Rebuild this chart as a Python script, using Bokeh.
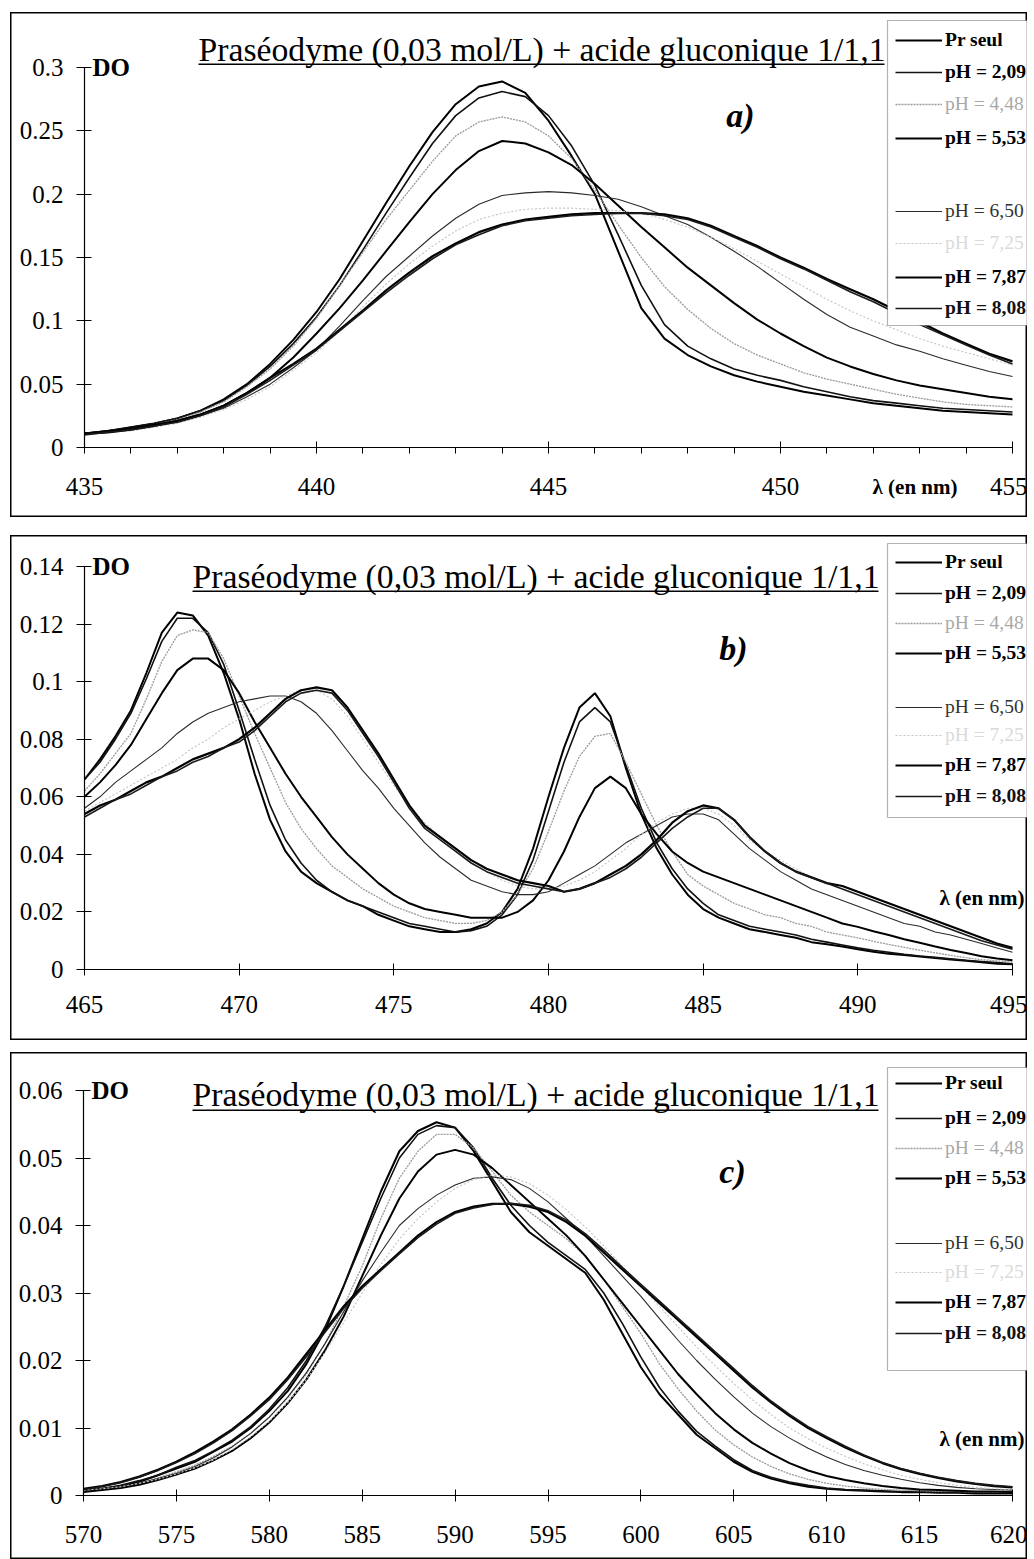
from bokeh.plotting import figure
from bokeh.models import (Range1d, LinearAxis, FixedTicker, Label, Legend, LegendItem,
                          BoxAnnotation, Spacer)
from bokeh.layouts import column, row
from bokeh.embed import file_html
from bokeh.resources import INLINE

FONT = "Liberation Serif"
TITLE = "Praséodyme (0,03 mol/L) + acide gluconique 1/1,1"
SERIES = ["Pr seul", "pH = 2,09", "pH = 4,48", "pH = 5,53",
          "pH = 6,50", "pH = 7,25", "pH = 7,87", "pH = 8,08"]

# ---------------- panel a) ----------------
WL_A = [435 + 0.5 * i for i in range(41)]
A_PR = [0.011, 0.013, 0.016, 0.019, 0.023, 0.029, 0.038, 0.050, 0.066, 0.085, 0.107, 0.133, 0.163, 0.193,
        0.222, 0.249, 0.271, 0.285, 0.289, 0.280, 0.258, 0.230, 0.200, 0.155, 0.110, 0.086, 0.073, 0.064,
        0.057, 0.052, 0.048, 0.044, 0.041, 0.038, 0.035, 0.033, 0.031, 0.029, 0.028, 0.027, 0.026]
A_209 = [0.011, 0.013, 0.016, 0.019, 0.023, 0.029, 0.037, 0.049, 0.064, 0.082, 0.103, 0.128, 0.156, 0.185,
         0.213, 0.240, 0.262, 0.276, 0.281, 0.277, 0.262, 0.238, 0.207, 0.168, 0.128, 0.097, 0.080, 0.070,
         0.062, 0.057, 0.053, 0.048, 0.044, 0.040, 0.037, 0.035, 0.033, 0.031, 0.030, 0.029, 0.028]
A_448 = [0.011, 0.013, 0.015, 0.018, 0.022, 0.028, 0.036, 0.048, 0.062, 0.080, 0.102, 0.128, 0.154, 0.180,
         0.203, 0.226, 0.246, 0.257, 0.261, 0.257, 0.246, 0.228, 0.203, 0.176, 0.150, 0.127, 0.109, 0.094,
         0.082, 0.073, 0.066, 0.059, 0.054, 0.050, 0.046, 0.042, 0.039, 0.036, 0.034, 0.033, 0.032]
A_553 = [0.011, 0.013, 0.015, 0.018, 0.021, 0.026, 0.033, 0.043, 0.055, 0.071, 0.090, 0.110, 0.132, 0.155,
         0.178, 0.200, 0.219, 0.234, 0.242, 0.240, 0.233, 0.223, 0.208, 0.191, 0.174, 0.158, 0.142, 0.128,
         0.114, 0.101, 0.090, 0.080, 0.071, 0.064, 0.058, 0.053, 0.049, 0.046, 0.043, 0.040, 0.038]
A_650 = [0.011, 0.012, 0.014, 0.017, 0.020, 0.025, 0.031, 0.040, 0.050, 0.063, 0.077, 0.096, 0.116, 0.135,
         0.151, 0.167, 0.181, 0.192, 0.199, 0.201, 0.202, 0.201, 0.199, 0.196, 0.190, 0.183, 0.176, 0.166,
         0.155, 0.143, 0.130, 0.117, 0.105, 0.095, 0.088, 0.081, 0.076, 0.070, 0.065, 0.060, 0.056]
A_725 = [0.011, 0.012, 0.013, 0.016, 0.019, 0.024, 0.030, 0.038, 0.048, 0.061, 0.075, 0.092, 0.111, 0.129,
         0.145, 0.159, 0.171, 0.180, 0.185, 0.188, 0.189, 0.189, 0.188, 0.187, 0.185, 0.180, 0.174, 0.166,
         0.157, 0.147, 0.137, 0.127, 0.117, 0.108, 0.100, 0.093, 0.086, 0.080, 0.075, 0.070, 0.065]
A_787 = [0.011, 0.012, 0.014, 0.017, 0.021, 0.026, 0.033, 0.043, 0.055, 0.066, 0.078, 0.093, 0.108, 0.124,
         0.138, 0.151, 0.161, 0.170, 0.176, 0.180, 0.182, 0.184, 0.185, 0.185, 0.185, 0.184, 0.181, 0.175,
         0.167, 0.159, 0.150, 0.142, 0.133, 0.125, 0.117, 0.108, 0.099, 0.090, 0.082, 0.074, 0.068]
A_808 = [0.010, 0.012, 0.014, 0.017, 0.020, 0.025, 0.032, 0.042, 0.053, 0.065, 0.077, 0.092, 0.107, 0.122,
         0.136, 0.149, 0.160, 0.168, 0.175, 0.179, 0.181, 0.183, 0.184, 0.185, 0.185, 0.183, 0.180, 0.174,
         0.166, 0.158, 0.149, 0.141, 0.132, 0.123, 0.115, 0.106, 0.097, 0.089, 0.081, 0.073, 0.066]
A_XTICKS = [435, 440, 445, 450, 455]
A_XMINOR = [436, 437, 438, 439, 441, 442, 443, 444, 446, 447, 448, 449, 451, 452, 453, 454]
A_YTICKS = [0, 0.05, 0.1, 0.15, 0.2, 0.25, 0.3]
A_YLABELS = ["0", "0.05", "0.1", "0.15", "0.2", "0.25", "0.3"]

# ---------------- panel b) ----------------
WL_B = [465 + 0.5 * i for i in range(61)]
B_PR = [0.066, 0.073, 0.081, 0.090, 0.103, 0.117, 0.124, 0.123, 0.116, 0.103, 0.087,
        0.068, 0.052, 0.041, 0.034, 0.030, 0.027, 0.024, 0.022, 0.019, 0.017,
        0.015, 0.014, 0.013, 0.013, 0.014, 0.016, 0.020, 0.028, 0.042, 0.060,
        0.077, 0.091, 0.096, 0.088, 0.070, 0.054, 0.042, 0.033, 0.026, 0.021,
        0.018, 0.016, 0.014, 0.013, 0.012, 0.011, 0.0095, 0.0088, 0.008, 0.007,
        0.0062, 0.0055, 0.005, 0.0045, 0.004, 0.0035, 0.003, 0.0025, 0.002, 0.0018]
B_209 = [0.066, 0.072, 0.080, 0.089, 0.101, 0.114, 0.122, 0.122, 0.117, 0.106, 0.090,
         0.073, 0.057, 0.045, 0.037, 0.031, 0.027, 0.024, 0.022, 0.020, 0.018,
         0.016, 0.015, 0.014, 0.013, 0.0135, 0.015, 0.019, 0.026, 0.038, 0.055,
         0.072, 0.086, 0.091, 0.086, 0.071, 0.056, 0.044, 0.035, 0.028, 0.023,
         0.019, 0.017, 0.015, 0.014, 0.013, 0.012, 0.0105, 0.0095, 0.0085, 0.0075,
         0.0067, 0.006, 0.0053, 0.0047, 0.0042, 0.0037, 0.0032, 0.0028, 0.0024, 0.002]
B_448 = [0.062, 0.068, 0.075, 0.082, 0.094, 0.107, 0.116, 0.118, 0.117, 0.108, 0.095,
         0.082, 0.070, 0.058, 0.049, 0.042, 0.036, 0.032, 0.028, 0.025, 0.022,
         0.020, 0.018, 0.017, 0.016, 0.016, 0.017, 0.020, 0.026, 0.035, 0.048,
         0.062, 0.074, 0.081, 0.082, 0.072, 0.061, 0.050, 0.041, 0.033, 0.029,
         0.026, 0.023, 0.021, 0.019, 0.018, 0.016, 0.015, 0.013, 0.012, 0.011,
         0.0098, 0.0087, 0.0077, 0.0067, 0.0058, 0.0049, 0.0041, 0.0034, 0.003, 0.0026]
B_553 = [0.060, 0.065, 0.071, 0.078, 0.087, 0.096, 0.104, 0.108, 0.108, 0.104, 0.096,
         0.086, 0.077, 0.068, 0.060, 0.053, 0.046, 0.040, 0.035, 0.030, 0.026,
         0.023, 0.021, 0.020, 0.019, 0.018, 0.018, 0.018, 0.020, 0.024, 0.031,
         0.041, 0.053, 0.063, 0.067, 0.063, 0.054, 0.047, 0.041, 0.037, 0.034,
         0.032, 0.030, 0.028, 0.026, 0.024, 0.022, 0.020, 0.018, 0.016, 0.0148,
         0.0133, 0.012, 0.0105, 0.0093, 0.008, 0.0068, 0.0057, 0.0046, 0.0038, 0.0032]
B_650 = [0.056, 0.060, 0.065, 0.069, 0.073, 0.077, 0.082, 0.086, 0.089, 0.091, 0.093,
         0.094, 0.095, 0.095, 0.093, 0.089, 0.083, 0.076, 0.069, 0.063, 0.056,
         0.050, 0.044, 0.039, 0.035, 0.031, 0.029, 0.027, 0.026, 0.026, 0.027,
         0.030, 0.033, 0.036, 0.040, 0.044, 0.047, 0.050, 0.053, 0.054, 0.054,
         0.052, 0.047, 0.042, 0.038, 0.034, 0.031, 0.028, 0.026, 0.024, 0.022,
         0.020, 0.018, 0.016, 0.015, 0.013, 0.012, 0.0105, 0.009, 0.0075, 0.006]
B_725 = [0.055, 0.058, 0.061, 0.064, 0.067, 0.070, 0.073, 0.077, 0.080, 0.084, 0.087,
         0.090, 0.093, 0.095, 0.097, 0.097, 0.094, 0.088, 0.080, 0.072, 0.064,
         0.057, 0.051, 0.046, 0.041, 0.037, 0.034, 0.031, 0.029, 0.028, 0.028,
         0.029, 0.031, 0.034, 0.038, 0.042, 0.047, 0.051, 0.054, 0.056, 0.056,
         0.054, 0.050, 0.045, 0.041, 0.038, 0.035, 0.032, 0.030, 0.028, 0.026,
         0.024, 0.022, 0.020, 0.018, 0.016, 0.014, 0.012, 0.010, 0.0085, 0.007]
B_787 = [0.054, 0.057, 0.059, 0.062, 0.065, 0.067, 0.070, 0.073, 0.075, 0.077, 0.080,
         0.084, 0.089, 0.094, 0.097, 0.098, 0.097, 0.091, 0.083, 0.075, 0.066,
         0.057, 0.050, 0.046, 0.042, 0.038, 0.035, 0.033, 0.031, 0.030, 0.029,
         0.027, 0.028, 0.030, 0.033, 0.036, 0.040, 0.045, 0.051, 0.055, 0.057,
         0.056, 0.052, 0.046, 0.041, 0.037, 0.034, 0.032, 0.030, 0.029, 0.027,
         0.025, 0.023, 0.021, 0.019, 0.017, 0.015, 0.013, 0.011, 0.009, 0.0075]
B_808 = [0.053, 0.056, 0.059, 0.061, 0.064, 0.067, 0.069, 0.072, 0.074, 0.077, 0.079,
         0.083, 0.088, 0.093, 0.096, 0.097, 0.096, 0.090, 0.082, 0.074, 0.065,
         0.056, 0.049, 0.045, 0.041, 0.037, 0.034, 0.032, 0.030, 0.029, 0.028,
         0.027, 0.028, 0.030, 0.032, 0.035, 0.039, 0.044, 0.049, 0.053, 0.056,
         0.056, 0.052, 0.046, 0.041, 0.037, 0.034, 0.032, 0.030, 0.028, 0.026,
         0.024, 0.022, 0.020, 0.018, 0.016, 0.014, 0.012, 0.010, 0.0085, 0.007]
B_XTICKS = [465, 470, 475, 480, 485, 490, 495]
B_YTICKS = [0, 0.02, 0.04, 0.06, 0.08, 0.1, 0.12, 0.14]
B_YLABELS = ["0", "0.02", "0.04", "0.06", "0.08", "0.1", "0.12", "0.14"]

# ---------------- panel c) ----------------
WL_C = [570 + i for i in range(51)]
C_PR = [0.0008, 0.001, 0.0014, 0.002, 0.003, 0.004, 0.005, 0.0065, 0.008, 0.010, 0.0125,
        0.0155, 0.0195, 0.0245, 0.031, 0.038, 0.045, 0.051, 0.054, 0.0553, 0.0545,
        0.051, 0.0465, 0.042, 0.039, 0.037, 0.035, 0.033, 0.029, 0.024, 0.019,
        0.015, 0.012, 0.009, 0.007, 0.005, 0.0035, 0.0025, 0.0018, 0.0013, 0.001,
        0.0008, 0.0007, 0.0006, 0.0005, 0.0005, 0.0004, 0.0004, 0.0003, 0.0003, 0.0003]
C_209 = [0.0008, 0.001, 0.0015, 0.0022, 0.003, 0.0042, 0.0052, 0.0066, 0.0082, 0.0102, 0.0128,
         0.016, 0.020, 0.025, 0.031, 0.0375, 0.044, 0.050, 0.0535, 0.0548, 0.0545,
         0.0515, 0.047, 0.043, 0.040, 0.0375, 0.0355, 0.0335, 0.030, 0.0255, 0.0205,
         0.016, 0.0125, 0.0095, 0.0073, 0.0053, 0.0037, 0.0027, 0.002, 0.0015, 0.0011,
         0.0009, 0.0008, 0.0007, 0.0006, 0.0006, 0.0005, 0.0005, 0.0005, 0.0005, 0.0005]
C_448 = [0.0006, 0.0009, 0.0012, 0.0018, 0.0026, 0.0035, 0.0045, 0.0058, 0.0073, 0.0092, 0.0116,
         0.0145, 0.018, 0.0225, 0.028, 0.034, 0.041, 0.047, 0.051, 0.0535, 0.0535,
         0.0515, 0.048, 0.0445, 0.042, 0.040, 0.038, 0.0355, 0.032, 0.028, 0.024,
         0.0195, 0.0158, 0.0125, 0.0097, 0.0075, 0.0057, 0.0043, 0.0032, 0.0024, 0.0018,
         0.0014, 0.0011, 0.0009, 0.0008, 0.0007, 0.0006, 0.0006, 0.0005, 0.0005, 0.0005]
C_553 = [0.0005, 0.0008, 0.0011, 0.0016, 0.0023, 0.0031, 0.004, 0.0052, 0.0066, 0.0085, 0.0108,
         0.0137, 0.0172, 0.0215, 0.0265, 0.0325, 0.0385, 0.044, 0.048, 0.0505, 0.0512,
         0.0505, 0.0485, 0.046, 0.0435, 0.041, 0.0385, 0.0355, 0.032, 0.0285, 0.025,
         0.0215, 0.018, 0.015, 0.0122, 0.0098, 0.0078, 0.0062, 0.0048, 0.0037, 0.0029,
         0.0023, 0.0018, 0.0014, 0.0011, 0.0009, 0.0008, 0.0007, 0.0006, 0.0006, 0.0005]
C_650 = [0.0008, 0.001, 0.0013, 0.0018, 0.0025, 0.0033, 0.0043, 0.0056, 0.0072, 0.0092, 0.0116,
         0.0146, 0.0182, 0.0225, 0.0272, 0.0318, 0.036, 0.040, 0.0425, 0.0445, 0.046,
         0.047, 0.0472, 0.0468, 0.0455, 0.0435, 0.041, 0.0385, 0.0355, 0.0325, 0.0295,
         0.0262, 0.023, 0.020, 0.0172, 0.0146, 0.0122, 0.0102, 0.0085, 0.007, 0.0057,
         0.0046, 0.0037, 0.003, 0.0024, 0.0019, 0.0015, 0.0012, 0.001, 0.0009, 0.0008]
C_725 = [0.0008, 0.001, 0.0013, 0.0018, 0.0024, 0.0032, 0.0041, 0.0053, 0.0068, 0.0087, 0.011,
         0.0138, 0.0172, 0.0212, 0.0256, 0.030, 0.0342, 0.038, 0.041, 0.0435, 0.0455,
         0.0468, 0.0475, 0.0472, 0.0462, 0.0445, 0.0423, 0.0398, 0.037, 0.034, 0.031,
         0.028, 0.025, 0.022, 0.0192, 0.0166, 0.0142, 0.012, 0.010, 0.0084, 0.007,
         0.0058, 0.0047, 0.0038, 0.003, 0.0024, 0.0019, 0.0015, 0.0012, 0.001, 0.0009]
C_787 = [0.001, 0.0014, 0.002, 0.0028, 0.0038, 0.005, 0.0064, 0.008, 0.0098, 0.012, 0.0145,
         0.0175, 0.021, 0.0245, 0.028, 0.031, 0.0335, 0.036, 0.0385, 0.0405, 0.042,
         0.0428, 0.0432, 0.0432, 0.0428, 0.042, 0.0405, 0.0385, 0.036, 0.0335, 0.031,
         0.0285, 0.026, 0.0235, 0.021, 0.0185, 0.016, 0.0138, 0.0118, 0.010, 0.0085,
         0.0071, 0.0059, 0.0048, 0.0039, 0.0032, 0.0026, 0.0021, 0.0017, 0.0014, 0.0012]
C_808 = [0.0009, 0.0013, 0.0019, 0.0027, 0.0037, 0.0049, 0.0062, 0.0078, 0.0096, 0.0118, 0.0142,
         0.0172, 0.0206, 0.0242, 0.0277, 0.0307, 0.0333, 0.0358, 0.0382, 0.0402, 0.0418,
         0.0426, 0.0431, 0.0433, 0.043, 0.0422, 0.0408, 0.0388, 0.0364, 0.0338, 0.0313,
         0.0288, 0.0263, 0.0238, 0.0213, 0.0188, 0.0163, 0.014, 0.012, 0.0102, 0.0087,
         0.0073, 0.006, 0.0049, 0.004, 0.0033, 0.0027, 0.0022, 0.0018, 0.0015, 0.0013]
C_XTICKS = [570, 575, 580, 585, 590, 595, 600, 605, 610, 615, 620]
C_YTICKS = [0, 0.01, 0.02, 0.03, 0.04, 0.05, 0.06]
C_YLABELS = ["0", "0.01", "0.02", "0.03", "0.04", "0.05", "0.06"]

# line style, legend text colour and weight for each series
STYLE = [
    ("#000000", 2.0, "solid", "#000000", "bold"),
    ("#111111", 1.6, "solid", "#000000", "bold"),
    ("#9a9a9a", 1.3, "2 1", "#a8a8a8", "normal"),
    ("#000000", 2.0, "solid", "#000000", "bold"),
    ("#2a2a2a", 1.1, "solid", "#333333", "normal"),
    ("#c4c4c4", 1.1, "2 2", "#dadada", "normal"),
    ("#000000", 2.2, "solid", "#000000", "bold"),
    ("#1a1a1a", 1.6, "solid", "#111111", "bold"),
]

W = 1017


def build(wl, vals, xticks, xminor, yticks, ylabels, cfg):
    H = cfg["h"]
    x0, x1 = xticks[0], xticks[-1]
    px0, px1 = cfg["px"]
    sx = (px1 - px0) / (x1 - x0)
    xs, xe = x0 - px0 / sx, x1 + (W - px1) / sx
    ytop = yticks[-1]
    py0, pyt = cfg["py"]
    sy = (py0 - pyt) / ytop
    yt, yb = ytop + pyt / sy, -(H - py0) / sy

    def dx(px):
        return xs + px / sx

    def dy(py):
        return yt - py / sy

    p = figure(width=W, height=H, x_range=Range1d(xs, xe), y_range=Range1d(yb, yt),
               output_backend="svg", toolbar_location=None,
               x_axis_location=None, y_axis_location=None, min_border=0,
               outline_line_color="black", outline_line_width=2,
               background_fill_color="white", border_fill_color="white")
    p.grid.visible = False

    xaxis = LinearAxis(fixed_location=0, bounds=(x0, x1),
                       ticker=FixedTicker(ticks=xticks, minor_ticks=xminor),
                       major_label_overrides={t: str(t) for t in xticks},
                       axis_line_color="black", axis_line_width=1.2,
                       major_tick_in=6, major_tick_out=6, minor_tick_in=0, minor_tick_out=6,
                       major_tick_line_color="black", minor_tick_line_color="black",
                       major_label_standoff=cfg["xstand"],
                       major_label_text_font=FONT, major_label_text_font_size="25px",
                       major_label_text_color="black")
    p.add_layout(xaxis, "below")
    yaxis = LinearAxis(fixed_location=x0, bounds=(0, ytop),
                       ticker=FixedTicker(ticks=yticks, minor_ticks=[]),
                       major_label_overrides={t: l for t, l in zip(yticks, ylabels)},
                       axis_line_color="black", axis_line_width=1.2,
                       major_tick_in=7, major_tick_out=8,
                       major_tick_line_color="black",
                       major_label_standoff=13,
                       major_label_text_font=FONT, major_label_text_font_size="25px",
                       major_label_text_color="black")
    p.add_layout(yaxis, "left")

    rends = []
    for v, (col, lw, dash, _, _) in zip(vals, STYLE):
        rends.append(p.line(wl, v, line_color=col, line_width=lw, line_dash=dash))

    # title (underlined)
    tx, tmid, tul, tu_end = cfg["title"]
    p.add_layout(Label(x=dx(tx), y=dy(tmid), text=TITLE, text_font=FONT,
                       text_font_size="33.7px", text_baseline="middle",
                       text_align="left", text_color="black"))
    p.add_layout(BoxAnnotation(left=dx(tx), right=dx(tu_end), top=dy(tul), bottom=dy(tul + 1.6),
                               fill_color="black", fill_alpha=1, line_alpha=0))
    # DO
    p.add_layout(Label(x=dx(px0 + 8), y=ytop, text="DO", text_font=FONT, text_font_size="25px",
                       text_font_style="bold", text_baseline="middle", text_align="left",
                       text_color="black"))
    # panel tag
    tgx, tgy, tag = cfg["tag"]
    p.add_layout(Label(x=dx(tgx), y=dy(tgy), text=tag, text_font=FONT, text_font_size="34px",
                       text_font_style="bold italic", text_baseline="middle", text_align="center",
                       text_color="black"))
    # x axis name
    lx, ly, lal = cfg["lam"]
    p.add_layout(Label(x=dx(lx), y=dy(ly), text="λ (en nm)", text_font=FONT,
                       text_font_size="21px", text_font_style="bold",
                       text_baseline="middle", text_align=lal, text_color="black"))

    # legend box
    bt, bb = cfg["lbox"]
    p.add_layout(BoxAnnotation(left=dx(877), right=dx(1016.5), top=dy(bt), bottom=dy(bb),
                               fill_color="white", fill_alpha=1, line_color="black",
                               line_width=1.2))
    for r, name, (_, _, _, tcol, tsty), c in zip(rends, SERIES, STYLE, cfg["litems"]):
        leg = Legend(items=[LegendItem(label=name, renderers=[r])],
                     location=(885, H - c - 11), padding=0, margin=0, spacing=0,
                     border_line_alpha=0, background_fill_alpha=0,
                     glyph_width=47, glyph_height=22, label_height=22, label_standoff=3,
                     label_text_font=FONT, label_text_font_size="19.5px",
                     label_text_font_style=tsty, label_text_color=tcol)
        p.add_layout(leg)
    return p


pa = build(WL_A, [A_PR, A_209, A_448, A_553, A_650, A_725, A_787, A_808],
           A_XTICKS, A_XMINOR, A_YTICKS, A_YLABELS,
           dict(h=505, px=(74, 1002), py=(435, 55), xstand=24,
                title=(188, 37, 51, 874), tag=(730, 103, "a)"), lam=(947, 474, "right"),
                lbox=(8, 313), litems=[28, 60, 92, 126, 199, 231, 265, 296]))
pb = build(WL_B, [B_PR, B_209, B_448, B_553, B_650, B_725, B_787, B_808],
           B_XTICKS, [], B_YTICKS, B_YLABELS,
           dict(h=505, px=(74, 1002), py=(434, 31), xstand=20,
                title=(182, 41, 55, 868), tag=(723, 113, "b)"), lam=(1014, 362, "right"),
                lbox=(8, 282), litems=[27, 58, 88, 118, 172, 200, 230, 261]))
pc = build(WL_C, [C_PR, C_209, C_448, C_553, C_650, C_725, C_787, C_808],
           C_XTICKS, [], C_YTICKS, C_YLABELS,
           dict(h=507, px=(73, 1002), py=(443, 38), xstand=24,
                title=(182, 42, 57, 868), tag=(722, 119, "c)"), lam=(1014, 386, "right"),
                lbox=(15, 318), litems=[31, 66, 96, 126, 191, 220, 250, 281]))

layout = row(Spacer(width=10),
             column(Spacer(height=12), pa, Spacer(height=18), pb, Spacer(height=12), pc))
open("out.html", "w").write(file_html(layout, INLINE))
